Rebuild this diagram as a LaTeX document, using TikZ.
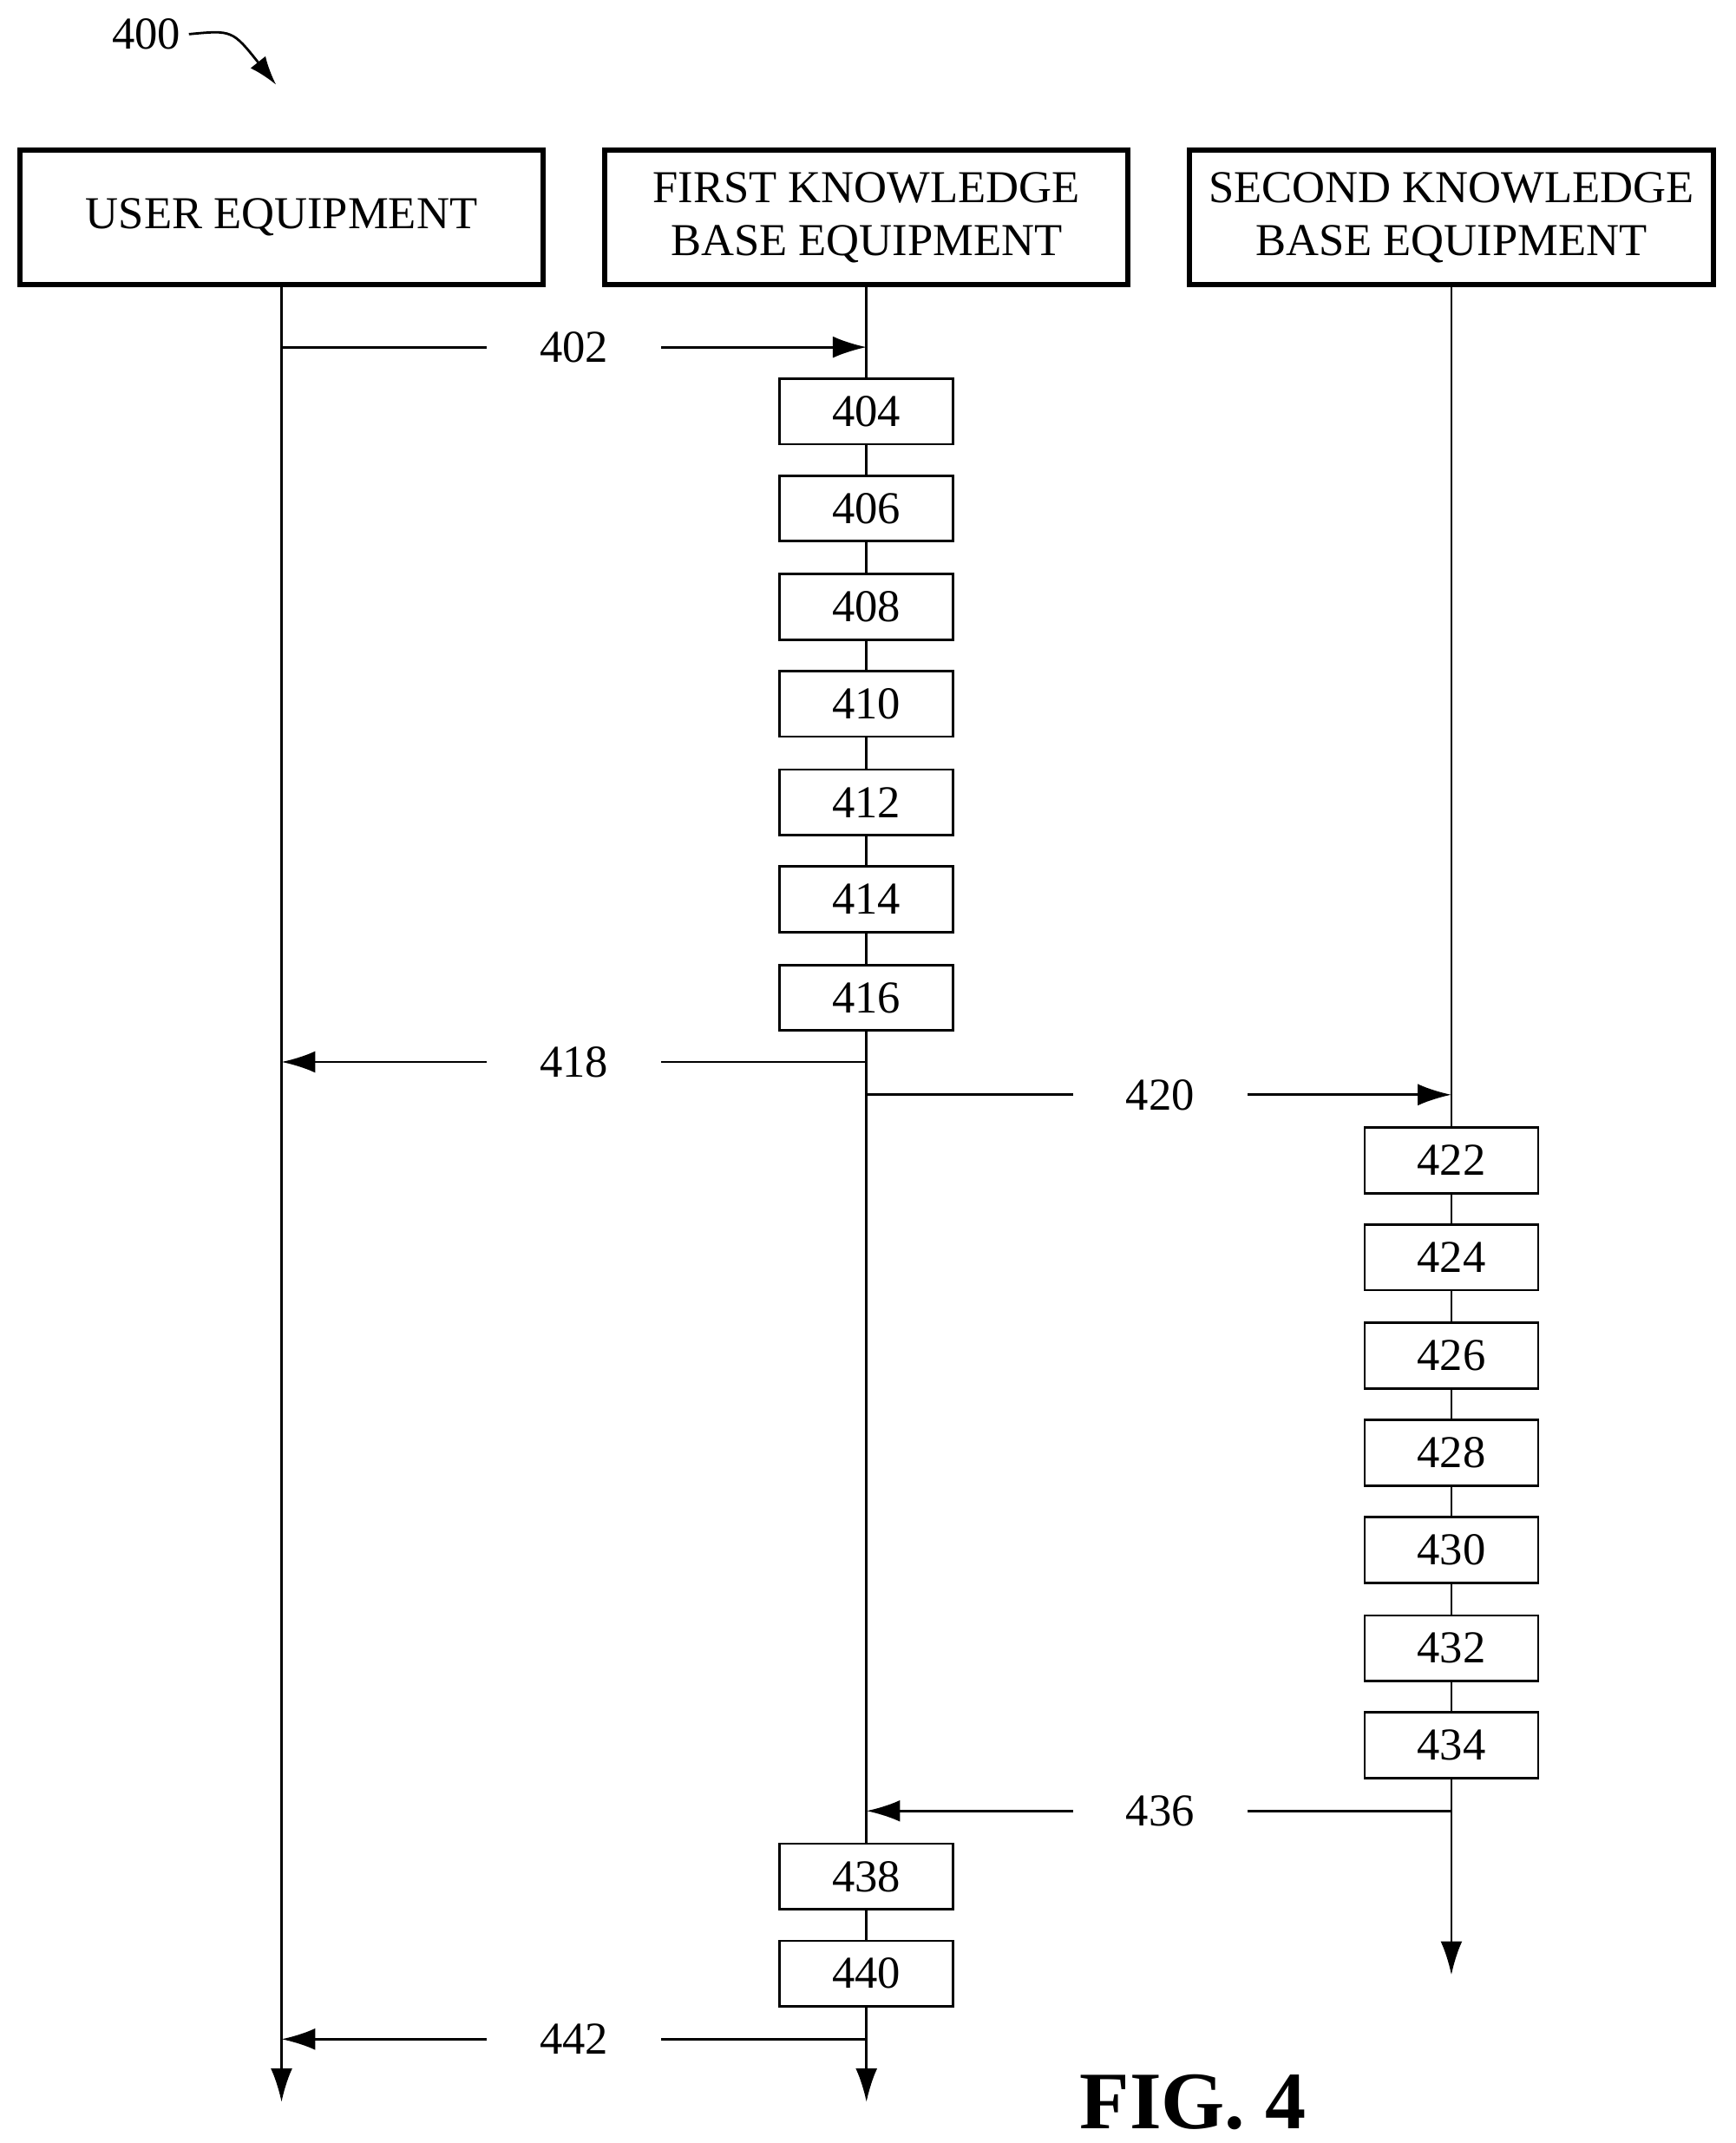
\documentclass[tikz,border=0pt]{standalone}
\usepackage{fontspec}
\setmainfont{Liberation Serif}
\usetikzlibrary{arrows.meta,positioning}
\begin{document}
\begin{tikzpicture}[x=0.02cm,y=-0.02cm,
   every node/.style={font=\fontsize{19}{22}\selectfont},
   head/.style={draw, line width=2.2pt, minimum width=7.66cm, minimum height=1.96cm, align=center},
   stepbox/.style={draw, line width=1pt, fill=white, minimum width=2.54cm, minimum height=0.96cm},
   msg/.style={fill=white, minimum width=2.56cm, inner sep=0pt},
   life/.style={line width=1pt, -{Latex[length=14pt,width=9pt]}},
   arr/.style={line width=1pt, -{Latex[length=14pt,width=9pt]}}]
\useasboundingbox (0,0) rectangle (1270,1568);

% headers
\node[head] (ue) at (206,159) {USER EQUIPMENT};
\node[head] (kb1) at (634,159) {FIRST KNOWLEDGE\\BASE EQUIPMENT};
\node[head] (kb2) at (1062,159) {SECOND KNOWLEDGE\\BASE EQUIPMENT};

% lifelines
\coordinate (ueend) at (206,1538);
\coordinate (kb1end) at (634,1538);
\coordinate (kb2end) at (1062,1445);
\draw[life] (ue.south) -- (ueend);
\draw[life] (kb1.south) -- (kb1end);
\draw[life] (kb2.south) -- (kb2end);

% messages
\coordinate (a402) at (206,254); \coordinate (b402) at (634,254);
\draw[arr] (a402) -- (b402);
\node[msg] (m402) at (420,254) {402};
\coordinate (a418) at (634,777); \coordinate (b418) at (206,777);
\draw[arr] (a418) -- (b418);
\node[msg] (m418) at (420,777) {418};
\coordinate (a420) at (634,801); \coordinate (b420) at (1062,801);
\draw[arr] (a420) -- (b420);
\node[msg] (m420) at (849,801) {420};
\coordinate (a436) at (1062,1325); \coordinate (b436) at (634,1325);
\draw[arr] (a436) -- (b436);
\node[msg] (m436) at (849,1325) {436};
\coordinate (a442) at (634,1492); \coordinate (b442) at (206,1492);
\draw[arr] (a442) -- (b442);
\node[msg] (m442) at (420,1492) {442};

% steps
\foreach \n/\y in {404/301,406/372,408/444,410/515,412/587,414/658,416/730,438/1373,440/1444}
  \node[stepbox] (s\n) at (634,\y) {\n};
\foreach \n/\y in {422/849,424/920,426/992,428/1063,430/1134,432/1206,434/1277}
  \node[stepbox] (s\n) at (1062,\y) {\n};

% figure label
\node (fig) at (107,25) {400};
\coordinate (figtip) at (202,62);
\draw[line width=1pt, -{Latex[length=12pt,width=8pt]}] (fig.east) .. controls (170,22) .. (figtip);
\node[font=\fontsize{34}{40}\selectfont\bfseries] (title) at (873,1538) {FIG. 4};
\end{tikzpicture}
\end{document}
